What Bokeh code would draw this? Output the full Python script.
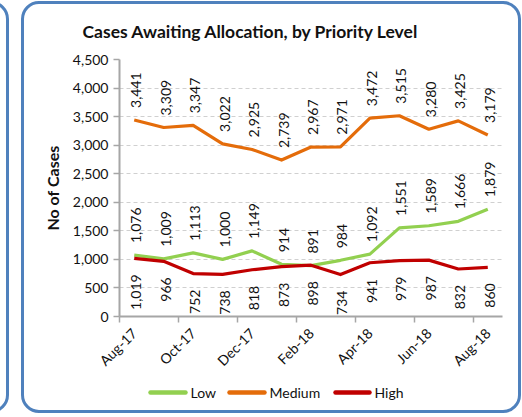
import math
from bokeh.plotting import figure
from bokeh.layouts import column
from bokeh.models import (ColumnDataSource, FixedTicker, NumeralTickFormatter, Range1d,
                          InlineStyleSheet)
from bokeh.core.properties import value
from bokeh.embed import file_html
from bokeh.resources import INLINE

# ---- data ----
months = ["Aug-17", "Sep-17", "Oct-17", "Nov-17", "Dec-17", "Jan-18", "Feb-18",
          "Mar-18", "Apr-18", "May-18", "Jun-18", "Jul-18", "Aug-18"]
low = [1076, 1009, 1113, 1000, 1149, 914, 891, 984, 1092, 1551, 1589, 1666, 1879]
medium = [3441, 3309, 3347, 3022, 2925, 2739, 2967, 2971, 3472, 3515, 3280, 3425, 3179]
high = [1019, 966, 752, 738, 818, 873, 898, 734, 941, 979, 987, 832, 860]
y_ticks = [0, 500, 1000, 1500, 2000, 2500, 3000, 3500, 4000, 4500]
series_names = ["Low", "Medium", "High"]
title_text = "Cases Awaiting Allocation, by Priority Level"
y_title = "No of Cases"

FONT = "Lato"
C_LOW, C_MED, C_HIGH = "#92D050", "#E46C0A", "#C00000"
FRAME = "#4F81BD"
colors = [C_LOW, C_MED, C_HIGH]

BL, BR = 119, 20          # left / right borders (px), shared by both figures
W = 522

x = list(range(len(months)))
src = ColumnDataSource(dict(
    x=x, low=low, medium=medium, high=high,
    low_t=[f"{v:,}" for v in low],
    med_t=[f"{v:,}" for v in medium],
    high_t=[f"{v:,}" for v in high],
))

p = figure(width=W, height=378, output_backend="svg", toolbar_location=None,
           x_range=Range1d(-0.5, len(months) - 0.5), y_range=Range1d(0, y_ticks[-1]),
           min_border_left=BL, min_border_right=BR, min_border_top=59, min_border_bottom=60)
p.outline_line_color = None
p.background_fill_color = "white"
p.border_fill_color = "white"

# title
p.title.text = title_text
p.title.text_font = FONT
p.title.text_font_size = "17.5px"
p.title.text_font_style = "bold"
p.title.text_color = "#111111"
p.title.align = "left"
p.title.offset = -37
p.title.standoff = 35

# grid
p.xgrid.visible = False
p.ygrid.grid_line_color = "#D0D0D0"
p.ygrid.grid_line_dash = "4 3"
p.ygrid.grid_line_width = 1
p.ygrid.ticker = FixedTicker(ticks=y_ticks)

# y axis
p.yaxis.ticker = FixedTicker(ticks=y_ticks)
p.yaxis.formatter = NumeralTickFormatter(format="0,0")
p.yaxis.axis_line_color = "#A6A6A6"
p.yaxis.axis_line_width = 2
p.yaxis.major_tick_line_color = "#A6A6A6"
p.yaxis.major_tick_line_width = 1.5
p.yaxis.major_tick_out = 6
p.yaxis.major_tick_in = 0
p.yaxis.minor_tick_line_color = None
p.yaxis.major_label_text_font = FONT
p.yaxis.major_label_text_font_size = "14px"
p.yaxis.major_label_text_color = "#111111"
p.yaxis.major_label_standoff = 5
p.yaxis.axis_label = y_title
p.yaxis.axis_label_text_font = FONT
p.yaxis.axis_label_text_font_size = "16px"
p.yaxis.axis_label_text_font_style = "bold"
p.yaxis.axis_label_text_color = "#111111"
p.yaxis.axis_label_standoff = 8

# x axis
label_idx = list(range(0, len(months), 2))
p.xaxis.ticker = FixedTicker(ticks=label_idx,
                             minor_ticks=[i - 0.5 for i in range(0, len(months), 2)])
p.xaxis.major_label_overrides = {i: months[i] for i in label_idx}
p.xaxis.major_label_orientation = math.pi / 4
p.xaxis.axis_line_color = "#A6A6A6"
p.xaxis.axis_line_width = 2
p.xaxis.major_tick_line_color = None
p.xaxis.minor_tick_line_color = "#A6A6A6"
p.xaxis.minor_tick_line_width = 1.5
p.xaxis.minor_tick_out = 6
p.xaxis.minor_tick_in = 0
p.xaxis.major_label_text_font = FONT
p.xaxis.major_label_text_font_size = "14px"
p.xaxis.major_label_text_color = "#111111"
p.xaxis.major_label_standoff = 8

# lines
p.line("x", "low", source=src, line_color=C_LOW, line_width=3.2, line_join="round")
p.line("x", "medium", source=src, line_color=C_MED, line_width=3.2, line_join="round")
p.line("x", "high", source=src, line_color=C_HIGH, line_width=3.2, line_join="round")

# data labels
lab = dict(angle=math.pi / 2, text_font=value(FONT), text_font_size="14px",
           text_color="#111111", text_baseline="middle", x_offset=2)
p.text("x", "medium", text="med_t", source=src, text_align="left", y_offset=-12, **lab)
p.text("x", "low", text="low_t", source=src, text_align="left", y_offset=-12, **lab)
p.text("x", "high", text="high_t", source=src, text_align="right", y_offset=16, **lab)

# legend strip (separate small figure below the chart; its frame is aligned with the
# chart's frame by the column layout, so its x range is in page pixels BL..W-BR)
STRIP_H = 39
p2 = figure(width=W, height=STRIP_H, output_backend="svg", toolbar_location=None,
            x_range=Range1d(BL, W - BR), y_range=Range1d(0, STRIP_H),
            x_axis_type=None, y_axis_type=None,
            min_border_left=BL, min_border_right=BR, min_border_top=0, min_border_bottom=0)
p2.outline_line_color = None
p2.grid.visible = False
p2.background_fill_color = "white"
p2.border_fill_color = "white"
swatch_x0 = [150, 229, 335]
swatch_x1 = [185, 264, 369]
text_x = [190, 269, 374]
row_y = 25
legend_src = ColumnDataSource(dict(x0=swatch_x0, x1=swatch_x1, tx=text_x,
                                   y=[row_y] * 3, color=colors, label=series_names))
p2.segment(x0="x0", x1="x1", y0="y", y1="y", source=legend_src, line_color="color",
           line_width=4.5, line_cap="round")
p2.text(x="tx", y="y", text="label", source=legend_src, text_font=value(FONT),
        text_font_size="14px", text_color="#111111", text_baseline="middle",
        text_align="left")

page = column(p, p2, spacing=0)

# panel frames (pure decoration, drawn with CSS)
page.stylesheets = [InlineStyleSheet(css=f"""
:host::after {{ content: ""; position: absolute; left: 21px; top: 1px; width: 500px;
  height: 412px; box-sizing: border-box; border: 3.5px solid {FRAME};
  border-radius: 18px; pointer-events: none; z-index: 10; }}
:host::before {{ content: ""; position: absolute; left: -60px; top: 1px; width: 69px;
  height: 412px; box-sizing: border-box; border: 3.5px solid {FRAME};
  border-radius: 18px; pointer-events: none; z-index: 10; }}
""")]

open("out.html", "w").write(file_html(page, INLINE))
